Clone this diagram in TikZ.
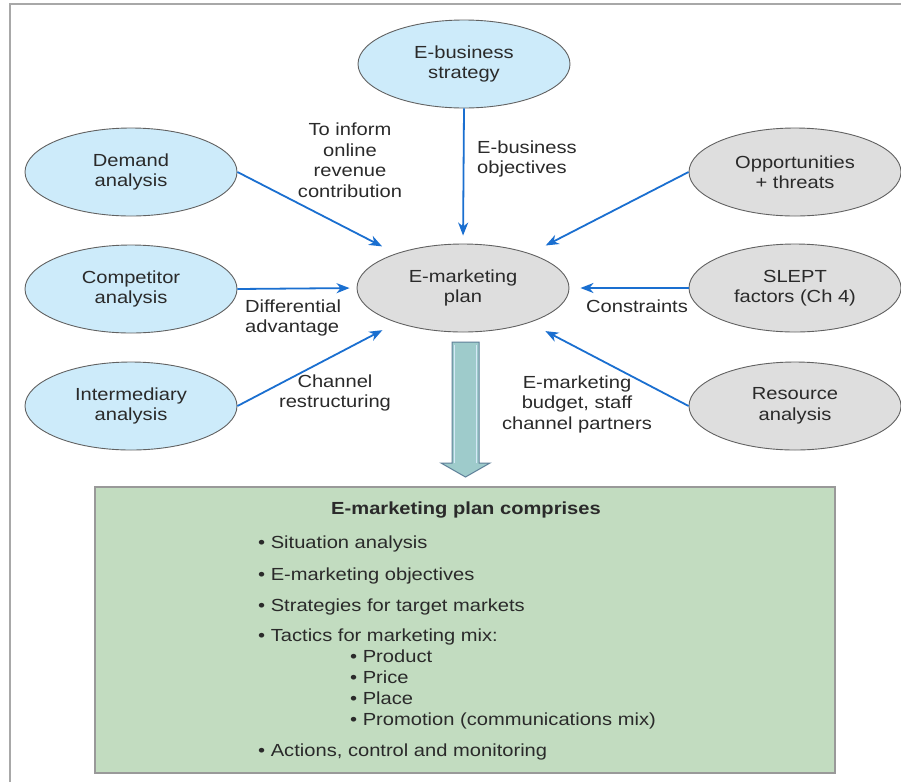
\documentclass[tikz,border=0pt]{standalone}
\usepackage{fontspec}
\setmainfont{Liberation Sans}[FakeStretch=1.15]
\usetikzlibrary{shapes.geometric,arrows.meta,calc}
\definecolor{bluefill}{HTML}{CDEBFA}
\definecolor{grayfill}{HTML}{DEDEDE}
\definecolor{arrowblue}{HTML}{1A6FD0}
\definecolor{greenfill}{HTML}{C2DCC0}
\definecolor{txt}{HTML}{2A2A2A}
\definecolor{shaftfill}{HTML}{9ECBCB}
\definecolor{shaftline}{HTML}{5E7F98}
\definecolor{framegray}{HTML}{A8A8A8}
\begin{document}
\begin{tikzpicture}[x=1pt,y=-1pt,
  font=\fontsize{17.5}{20.5}\selectfont,
  oval/.style={ellipse,draw=black!62,line width=0.9pt,minimum width=212pt,minimum height=88pt,inner sep=0pt,align=center,text=txt},
  blueoval/.style={oval,fill=bluefill},
  grayoval/.style={oval,fill=grayfill},
  conn/.style={arrowblue,line width=1.8pt,-{Stealth[length=13pt,width=10pt,inset=4pt]}},
  lbl/.style={align=center,text=txt,inner sep=0pt},
  lbll/.style={align=left,text=txt,inner sep=0pt,anchor=west},
  item/.style={anchor=base west,text=txt,inner sep=0pt}]
\useasboundingbox (0,0) rectangle (901,782);
\fill[white] (0,0) rectangle (901,782);
\draw[framegray,line width=2pt] (10,782) -- (10,4) -- (901,4);

% ellipses
\node[blueoval] (ebiz) at (464,64) {E-business\\strategy};
\node[blueoval] (demand) at (131,172) {Demand\\analysis};
\node[blueoval] (comp) at (131,289) {Competitor\\analysis};
\node[blueoval] (inter) at (131,406) {Intermediary\\analysis};
\node[grayoval] (plan) at (463,288) {E-marketing\\plan};
\node[grayoval] (opp) at (795,172) {Opportunities\\+ threats};
\node[grayoval] (slept) at (795,288) {SLEPT\\factors (Ch 4)};
\node[grayoval] (res) at (795,406) {Resource\\analysis};

% connectors
\draw[conn,shorten >=91pt] (demand.east) -- (plan.center);
\draw[conn,shorten >=7pt] (comp.east) -- (plan.west);
\draw[conn,shorten >=91pt] (inter.east) -- (plan.center);
\draw[conn,shorten >=8pt] (ebiz.south) -- (plan.north);
\draw[conn,shorten >=93pt] (opp.west) -- (plan.center);
\draw[conn,shorten >=11pt] (slept.west) -- (plan.east);
\draw[conn,shorten >=93pt] (res.west) -- (plan.center);

% connector labels
\node[lbl] (l1) at (350,160) {To inform\\online\\revenue\\contribution};
\node[lbll] (l2) at (477,159) {E-business\\objectives};
\node[lbll] (l3) at (245,318) {Differential\\advantage};
\node[lbl] (l4) at (335,393) {Channel\\restructuring};
\node[lbl] (l5) at (637,306) {Constraints};
\node[lbl] (l6) at (577,404) {E-marketing\\budget, staff\\channel partners};

% big arrow
\draw[fill=shaftfill,draw=shaftline,line width=1pt,line join=miter]
  (452,342) -- (479,342) -- (479,463) -- (490,463) -- (465.5,477) -- (441,463) -- (452,463) -- cycle;
\draw[bluefill!70!arrowblue!40,line width=1pt] (454.5,344.5) -- (454.5,463);
\draw[bluefill!70!arrowblue!40,line width=1pt] (476.5,344.5) -- (476.5,463);

% green box
\node[draw=black!40,line width=1.6pt,fill=greenfill,minimum width=740pt,minimum height=286pt,inner sep=0pt] (box) at (465,630) {};
\node[text=txt,inner sep=0pt,font=\fontsize{17.5}{20.5}\selectfont\bfseries] (title) at (466,510) {E-marketing plan comprises};
\node[item] (i1) at (258,548) {• Situation analysis};
\node[item] (i2) at (258,580) {• E-marketing objectives};
\node[item] (i3) at (258,611) {• Strategies for target markets};
\node[item] (i4) at (258,641) {• Tactics for marketing mix:};
\node[item] (i5) at (350,662) {• Product};
\node[item] (i6) at (350,683) {• Price};
\node[item] (i7) at (350,704) {• Place};
\node[item] (i8) at (350,725) {• Promotion (communications mix)};
\node[item] (i9) at (258,756) {• Actions, control and monitoring};
\end{tikzpicture}
\end{document}
